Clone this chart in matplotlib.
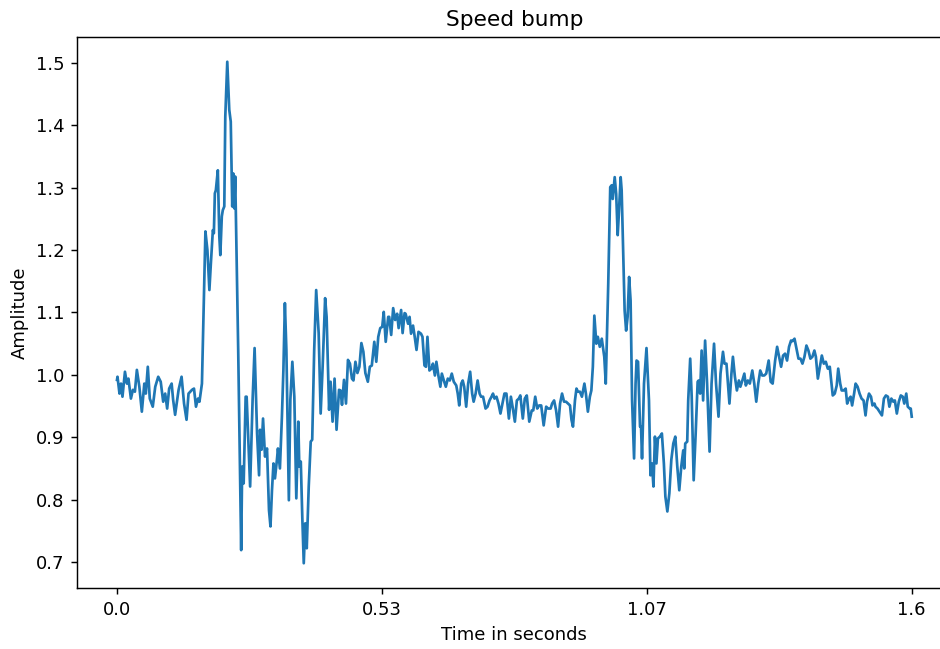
import matplotlib

matplotlib.use("Agg")
import matplotlib.pyplot as plt
import numpy as np

# readings taken off the reference trace (time in s, amplitude)
time_s = [
    0.000, 0.001, 0.005, 0.008, 0.011, 0.016, 0.020, 0.023, 0.028, 0.032,
    0.036, 0.040, 0.045, 0.050, 0.055, 0.058, 0.062, 0.066, 0.072, 0.077,
    0.083, 0.088, 0.093, 0.097, 0.101, 0.105, 0.110, 0.113, 0.117, 0.124,
    0.130, 0.135, 0.140, 0.144, 0.151, 0.155, 0.159, 0.163, 0.166, 0.171,
    0.174, 0.178, 0.182, 0.186, 0.189, 0.193, 0.195, 0.197, 0.199, 0.203,
    0.206, 0.208, 0.211, 0.213, 0.216, 0.218, 0.222, 0.226, 0.229, 0.232,
    0.234, 0.236, 0.238, 0.244, 0.250, 0.252, 0.255, 0.259, 0.261, 0.265,
    0.268, 0.273, 0.277, 0.282, 0.286, 0.288, 0.291, 0.294, 0.298, 0.302,
    0.306, 0.309, 0.312, 0.315, 0.318, 0.322, 0.324, 0.328, 0.332, 0.335,
    0.338, 0.341, 0.346, 0.349, 0.353, 0.357, 0.361, 0.365, 0.367, 0.370,
    0.373, 0.376, 0.379, 0.382, 0.386, 0.390, 0.393, 0.397, 0.401, 0.406,
    0.410, 0.414, 0.419, 0.422, 0.427, 0.430, 0.434, 0.438, 0.442, 0.447,
    0.450, 0.453, 0.457, 0.461, 0.465, 0.469, 0.473, 0.476, 0.480, 0.484,
    0.488, 0.492, 0.496, 0.500, 0.505, 0.509, 0.513, 0.518, 0.522, 0.526,
    0.530, 0.534, 0.537, 0.541, 0.546, 0.548, 0.552, 0.556, 0.560, 0.564,
    0.567, 0.572, 0.575, 0.579, 0.581, 0.586, 0.589, 0.592, 0.596, 0.599,
    0.603, 0.607, 0.612, 0.615, 0.619, 0.622, 0.625, 0.629, 0.633, 0.636,
    0.640, 0.643, 0.647, 0.651, 0.654, 0.658, 0.662, 0.666, 0.670, 0.674,
    0.678, 0.683, 0.686, 0.689, 0.693, 0.696, 0.699, 0.703, 0.707, 0.711,
    0.715, 0.718, 0.722, 0.726, 0.730, 0.733, 0.737, 0.742, 0.746, 0.750,
    0.754, 0.757, 0.760, 0.764, 0.768, 0.772, 0.776, 0.780, 0.784, 0.789,
    0.793, 0.797, 0.801, 0.805, 0.809, 0.812, 0.817, 0.821, 0.825, 0.830,
    0.835, 0.838, 0.842, 0.846, 0.850, 0.854, 0.859, 0.864, 0.868, 0.873,
    0.876, 0.880, 0.884, 0.888, 0.892, 0.896, 0.900, 0.904, 0.908, 0.912,
    0.915, 0.918, 0.922, 0.925, 0.928, 0.932, 0.936, 0.941, 0.944, 0.948,
    0.952, 0.955, 0.958, 0.961, 0.965, 0.968, 0.972, 0.976, 0.981, 0.984,
    0.989, 0.993, 0.996, 0.998, 1.002, 1.005, 1.008, 1.010, 1.014, 1.016,
    1.019, 1.022, 1.025, 1.028, 1.031, 1.034, 1.037, 1.041, 1.044, 1.046,
    1.049, 1.053, 1.055, 1.057, 1.061, 1.066, 1.071, 1.074, 1.077, 1.080,
    1.083, 1.086, 1.089, 1.093, 1.097, 1.101, 1.104, 1.108, 1.112, 1.116,
    1.120, 1.124, 1.128, 1.132, 1.136, 1.140, 1.142, 1.144, 1.148, 1.150,
    1.154, 1.157, 1.161, 1.165, 1.169, 1.171, 1.174, 1.177, 1.180, 1.184,
    1.188, 1.193, 1.197, 1.202, 1.206, 1.211, 1.215, 1.220, 1.223, 1.227,
    1.233, 1.237, 1.240, 1.244, 1.248, 1.252, 1.255, 1.259, 1.263, 1.266,
    1.270, 1.274, 1.279, 1.283, 1.287, 1.291, 1.295, 1.299, 1.303, 1.307,
    1.312, 1.316, 1.320, 1.325, 1.329, 1.333, 1.337, 1.341, 1.345, 1.349,
    1.353, 1.357, 1.360, 1.364, 1.368, 1.372, 1.376, 1.380, 1.384, 1.388,
    1.392, 1.396, 1.400, 1.404, 1.407, 1.411, 1.415, 1.419, 1.423, 1.427,
    1.431, 1.435, 1.437, 1.441, 1.445, 1.449, 1.452, 1.456, 1.459, 1.463,
    1.467, 1.470, 1.474, 1.477, 1.480, 1.484, 1.487, 1.491, 1.495, 1.499,
    1.503, 1.507, 1.510, 1.514, 1.518, 1.521, 1.525, 1.527, 1.531, 1.535,
    1.540, 1.544, 1.548, 1.552, 1.555, 1.559, 1.563, 1.566, 1.570, 1.574,
    1.578, 1.582, 1.585, 1.589, 1.592, 1.596, 1.598, 1.600,
]

amplitude = [
    0.992, 0.997, 0.970, 0.986, 0.965, 1.005, 0.986, 0.994, 0.962, 0.976,
    0.973, 1.008, 0.981, 0.941, 0.986, 0.970, 1.013, 0.962, 0.949, 0.981,
    0.997, 0.989, 0.957, 0.970, 0.946, 0.978, 0.986, 0.960, 0.936, 0.976,
    0.997, 0.954, 0.928, 0.970, 0.976, 0.978, 0.949, 0.962, 0.957, 0.986,
    1.093, 1.230, 1.200, 1.136, 1.179, 1.232, 1.227, 1.291, 1.296, 1.328,
    1.222, 1.192, 1.254, 1.264, 1.270, 1.414, 1.502, 1.425, 1.406, 1.270,
    1.323, 1.267, 1.318, 1.040, 0.719, 0.853, 0.826, 0.965, 0.965, 0.880,
    0.821, 0.960, 1.043, 0.906, 0.839, 0.912, 0.880, 0.930, 0.869, 0.882,
    0.783, 0.757, 0.815, 0.858, 0.834, 0.864, 0.882, 0.850, 0.933, 1.008,
    1.115, 1.040, 0.799, 0.960, 1.021, 0.965, 0.802, 0.925, 0.853, 0.861,
    0.773, 0.698, 0.762, 0.722, 0.821, 0.893, 0.896, 1.040, 1.136, 1.067,
    0.938, 1.013, 1.123, 1.093, 0.944, 0.989, 0.925, 0.994, 0.912, 0.976,
    0.975, 0.952, 0.992, 0.954, 1.024, 1.018, 0.994, 0.991, 1.021, 1.003,
    1.013, 1.051, 1.037, 1.003, 0.989, 1.013, 1.015, 1.053, 1.021, 1.061,
    1.075, 1.077, 1.101, 1.053, 1.093, 1.093, 1.064, 1.107, 1.088, 1.098,
    1.075, 1.104, 1.067, 1.099, 1.098, 1.082, 1.093, 1.066, 1.079, 1.063,
    1.040, 1.069, 1.066, 1.061, 1.015, 1.013, 1.061, 1.007, 1.010, 1.018,
    0.999, 1.021, 0.999, 0.981, 1.002, 0.991, 0.981, 0.994, 0.991, 1.002,
    0.989, 0.983, 0.970, 0.951, 0.986, 0.991, 0.981, 0.949, 0.986, 1.005,
    0.970, 0.957, 0.970, 0.991, 0.970, 0.965, 0.965, 0.946, 0.949, 0.959,
    0.965, 0.970, 0.962, 0.965, 0.954, 0.938, 0.954, 0.970, 0.970, 0.930,
    0.965, 0.946, 0.925, 0.959, 0.962, 0.967, 0.930, 0.962, 0.967, 0.925,
    0.943, 0.943, 0.965, 0.946, 0.951, 0.951, 0.919, 0.949, 0.946, 0.946,
    0.954, 0.959, 0.943, 0.917, 0.954, 0.970, 0.957, 0.957, 0.954, 0.951,
    0.928, 0.917, 0.959, 0.978, 0.973, 0.973, 0.965, 0.986, 0.970, 0.941,
    0.965, 0.975, 1.013, 1.095, 1.050, 1.061, 1.045, 1.058, 1.029, 0.986,
    1.146, 1.301, 1.304, 1.282, 1.317, 1.290, 1.224, 1.253, 1.317, 1.296,
    1.200, 1.103, 1.071, 1.093, 1.157, 1.119, 0.959, 0.866, 0.986, 1.023,
    1.021, 0.917, 0.917, 0.866, 0.986, 1.043, 0.959, 0.839, 0.858, 0.821,
    0.901, 0.858, 0.898, 0.901, 0.906, 0.858, 0.805, 0.781, 0.810, 0.864,
    0.890, 0.901, 0.853, 0.815, 0.853, 0.879, 0.850, 0.890, 0.893, 0.959,
    1.026, 0.965, 0.831, 0.906, 0.989, 0.991, 0.970, 1.039, 0.959, 1.055,
    0.986, 0.877, 0.986, 1.050, 0.986, 0.933, 1.002, 1.037, 1.018, 1.018,
    0.954, 1.002, 1.029, 0.997, 0.975, 0.991, 0.981, 0.991, 1.002, 0.983,
    0.991, 0.986, 1.007, 0.986, 0.957, 0.986, 1.007, 0.999, 0.999, 1.002,
    1.023, 0.989, 0.986, 1.023, 1.045, 1.029, 1.013, 1.031, 1.034, 1.023,
    1.045, 1.055, 1.054, 1.058, 1.042, 1.026, 1.026, 1.018, 1.029, 1.047,
    1.039, 1.026, 1.029, 1.039, 1.029, 0.994, 1.013, 1.031, 1.018, 1.021,
    1.010, 1.013, 0.997, 0.967, 0.970, 0.983, 1.010, 0.986, 0.975, 0.975,
    0.978, 0.954, 0.962, 0.965, 0.951, 0.970, 0.986, 0.981, 0.970, 0.962,
    0.959, 0.935, 0.957, 0.970, 0.965, 0.951, 0.954, 0.949, 0.946, 0.941,
    0.935, 0.962, 0.967, 0.965, 0.949, 0.962, 0.957, 0.959, 0.938, 0.957,
    0.967, 0.965, 0.954, 0.970, 0.949, 0.946, 0.946, 0.933,
]

tick_values = np.linspace(0, 1.6, 4)
tick_labels = [str(round(v, 2)) for v in tick_values]

dpi = 130
fig = plt.figure(figsize=(940 / dpi, 649 / dpi), dpi=dpi)
# axes run a little past the right edge, as in the reference crop
ax = fig.add_axes([0.0822, 0.0935, 0.9300, 0.8500])

ax.plot(time_s, amplitude, color="#1f77b4", linewidth=1.5)
ax.set_xticks(tick_values)
ax.set_xticklabels(tick_labels)
ax.set_title("Speed bump")
ax.set_xlabel("Time in seconds")
ax.set_ylabel("Amplitude")

fig.savefig("out.png", dpi=dpi)
